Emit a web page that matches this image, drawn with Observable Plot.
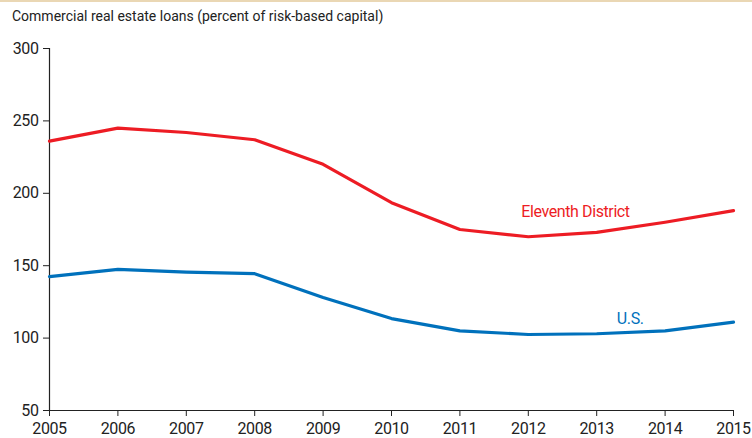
<!DOCTYPE html>
<html><head><meta charset="utf-8">
<script src="https://cdn.jsdelivr.net/npm/d3@7"></script>
<script src="https://cdn.jsdelivr.net/npm/@observablehq/plot@0.6"></script>
<style>
body{margin:0;background:#fff;font-family:"Roboto",sans-serif;}
#wrap{position:relative;width:752px;height:438px;overflow:hidden;}
#topbar{position:absolute;left:0;top:0;width:752px;height:2px;background:#ead7b4;}
#title{position:absolute;left:12px;top:8px;font-size:14px;color:#222;}
</style></head>
<body><div id="wrap"><div id="topbar"></div><div id="title">Commercial real estate loans (percent of risk-based capital)</div><div id="chart"></div></div>
<script>
const years = [2005,2006,2007,2008,2009,2010,2011,2012,2013,2014,2015];
const eleventh = [236,245,242,237,220,193.5,175,170,173,180,188];
const us = [142.5,147.5,145.5,144.5,128,113.5,105,102.5,103,105,111];
const yTicks = [50,100,150,200,250,300];
const seriesNames = ["Eleventh District","U.S."];
const colors = ["#ed1c24","#0071bc"];

const rows = [];
years.forEach((y,i)=>{rows.push({year:y,v:eleventh[i],s:seriesNames[0]});rows.push({year:y,v:us[i],s:seriesNames[1]});});
const labels = [{year:2012.69,v:187.5,s:seriesNames[0]},{year:2013.49,v:113.5,s:seriesNames[1]}];

const chart = Plot.plot({
  width:752, height:438,
  marginTop:48, marginBottom:28, marginLeft:49, marginRight:19,
  style:{fontFamily:'"Roboto",sans-serif',fontSize:"16px",color:"#222",background:"transparent",letterSpacing:"-0.4px"},
  x:{domain:[2005,2015],label:null},
  y:{domain:[50,300],label:null},
  color:{domain:seriesNames,range:colors},
  marks:[
    Plot.axisX({ticks:years,tickFormat:d=>String(d),tickSize:6,tickPadding:6,fontSize:16}),
    Plot.axisY({ticks:yTicks,tickSize:6,tickPadding:5,fontSize:16}),
    Plot.ruleX([2005],{stroke:"#222",strokeWidth:1.2}),
    Plot.ruleY([50],{stroke:"#222",strokeWidth:1.2}),
    Plot.line(rows,{x:"year",y:"v",z:"s",stroke:"s",strokeWidth:3.2}),
    Plot.text(labels,{x:"year",y:"v",text:"s",fill:"s",fontSize:16})
  ]
});
document.getElementById("chart").appendChild(chart);
</script></body></html>
